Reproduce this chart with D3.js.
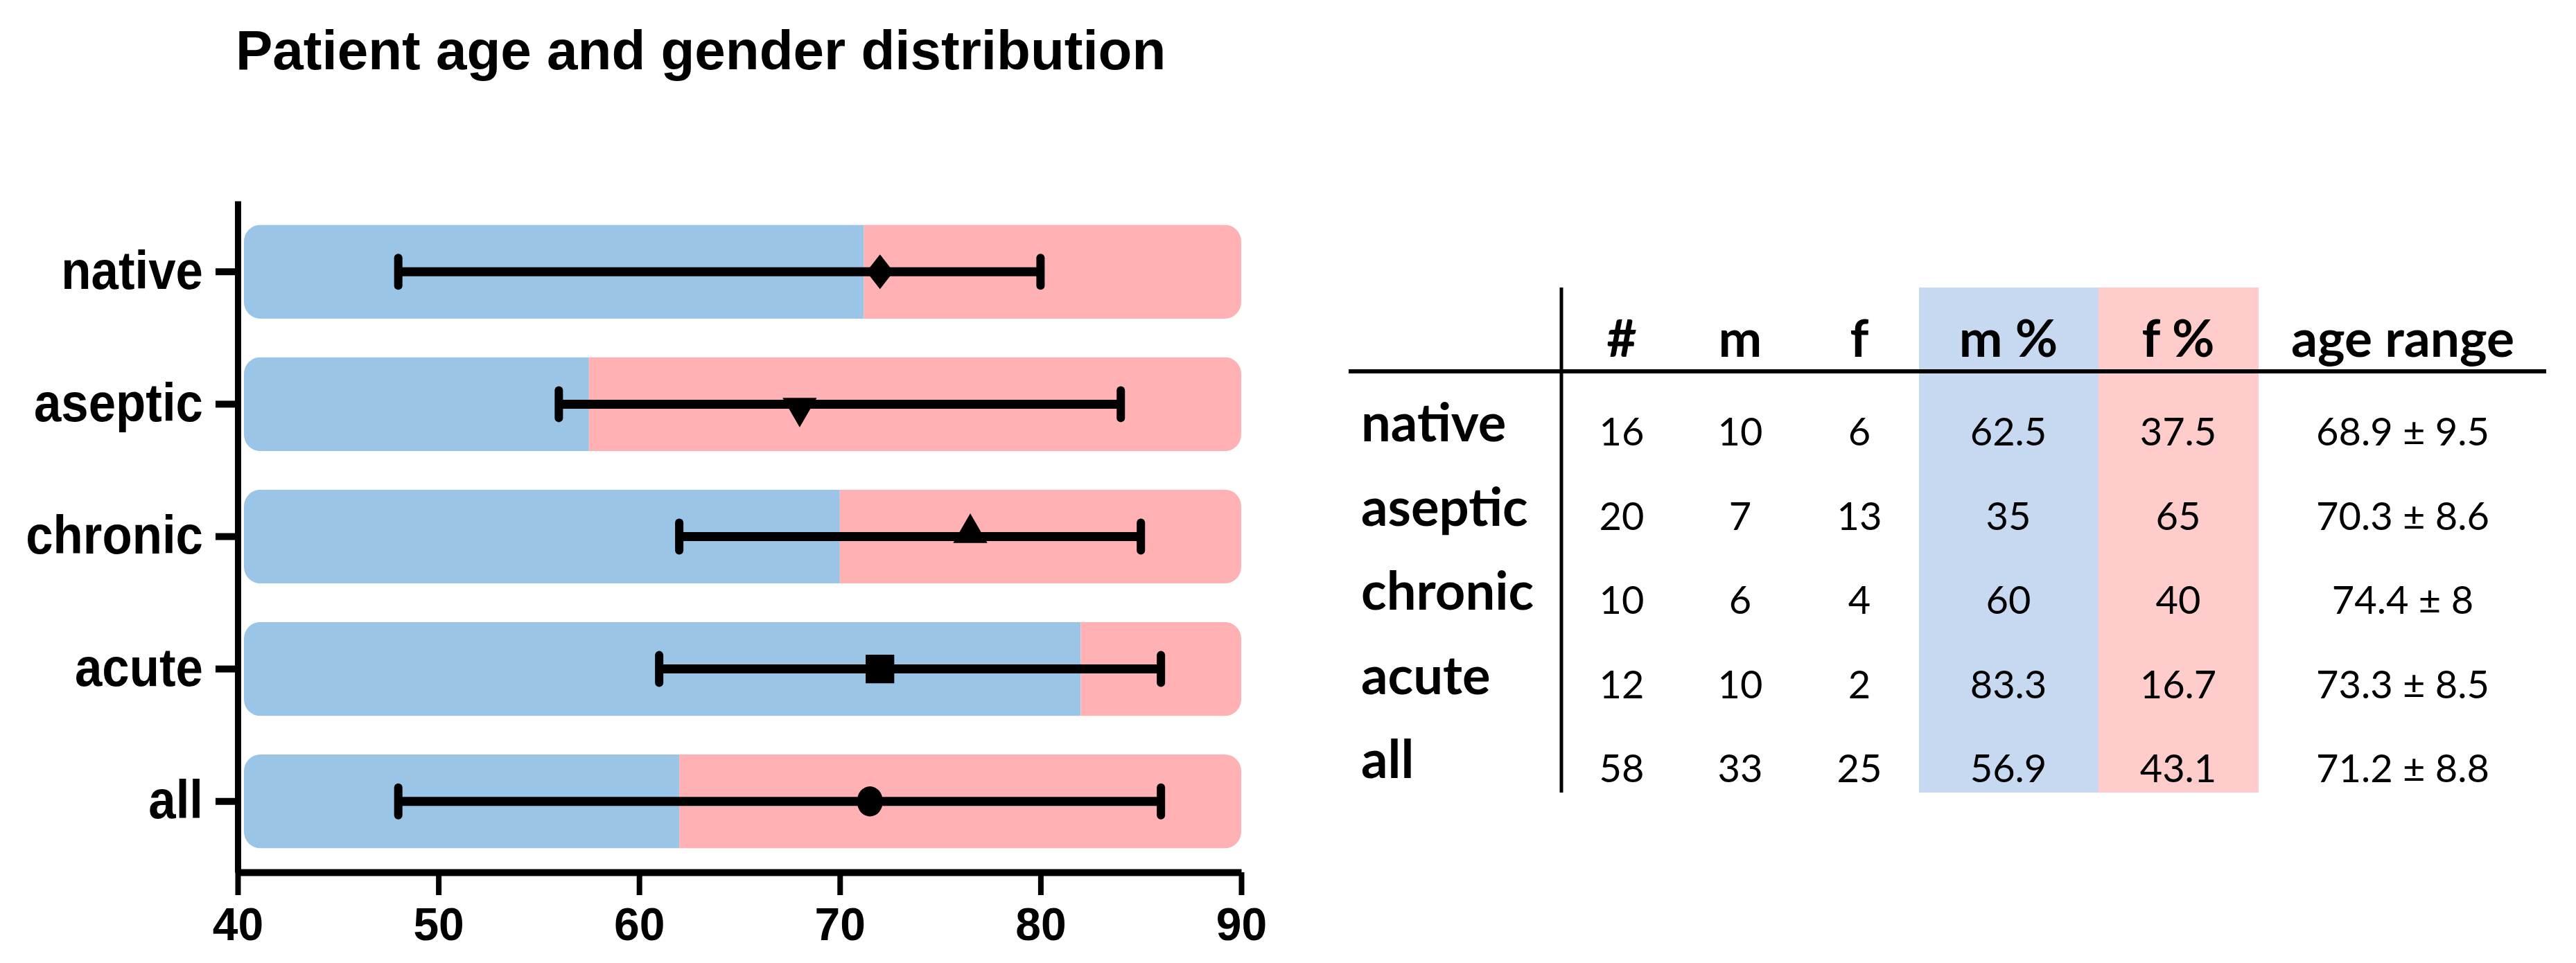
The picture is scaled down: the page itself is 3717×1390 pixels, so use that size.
<!DOCTYPE html>
<html>
<head>
<meta charset="utf-8">
<script src="https://cdn.jsdelivr.net/npm/d3@7"></script>
<style>
  body { margin: 0; background: #fff; }
</style>
</head>
<body>
<div id="chart"></div>
<script>
// Chart data
const categories = ['native', 'aseptic', 'chronic', 'acute', 'all']
const ageLow = [48, 56, 62, 61, 48]
const ageHigh = [80, 84, 85, 86, 86]
const ageMarker = [72, 68, 76.5, 72, 71.5]
const maleSplit = [71.2, 57.5, 70, 82, 62]   // where the blue part of the bar ends
const markerShapes = ['diamond', 'triangleDown', 'triangleUp', 'square', 'circle']
const xTicks = [40, 50, 60, 70, 80, 90]

// Table data
const tableHeaders = ['#', 'm', 'f', 'm %', 'f %', 'age range']
const totalCount = [16, 20, 10, 12, 58]
const maleCount = [10, 7, 6, 10, 33]
const femaleCount = [6, 13, 4, 2, 25]
const malePct = ['62.5', '35', '60', '83.3', '56.9']
const femalePct = ['37.5', '65', '40', '16.7', '43.1']
const ageMean = ['68.9', '70.3', '74.4', '73.3', '71.2']
const ageSd = ['9.5', '8.6', '8', '8.5', '8.8']

// Colors
const BLUE = '#9ac5e6'
const PINK = '#ffb1b3'
const TABLE_BLUE = '#c6d9f0'
const TABLE_PINK = '#ffcccc'

// Initialization
const width = 3717
const height = 1390
const svg = d3.select('#chart').append('svg')
  .attr('width', width)
  .attr('height', height)
const defs = svg.append('defs')

// Scales
const x = d3.scaleLinear().domain([40, 90]).range([343, 1791])
const y = d3.scaleBand().domain(categories).range([290, 1259])
  .paddingInner(0.29).paddingOuter(0.18)

// Title
svg.append('text')
  .attr('x', 340)
  .attr('y', 100)
  .style('font-family', '"Liberation Sans", Arial, sans-serif')
  .style('font-weight', 'bold')
  .style('font-size', '80px')
  .text('Patient age and gender distribution')

// Bars (blue = male share, pink = female share)
const rows = categories.map((c, i) => ({
  cat: c, low: ageLow[i], high: ageHigh[i], mark: ageMarker[i],
  split: maleSplit[i], shape: markerShapes[i]
}))

const barStart = x(40) + 9
const bars = svg.append('g')
rows.forEach((d, i) => {
  defs.append('clipPath').attr('id', `clip-${i}`)
    .append('rect')
    .attr('x', barStart)
    .attr('y', y(d.cat))
    .attr('width', x(90) - barStart)
    .attr('height', y.bandwidth())
    .attr('rx', 24)
  const g = bars.append('g').attr('clip-path', `url(#clip-${i})`)
  g.append('rect')
    .attr('x', barStart)
    .attr('y', y(d.cat))
    .attr('width', x(d.split) - barStart)
    .attr('height', y.bandwidth())
    .attr('fill', BLUE)
  g.append('rect')
    .attr('x', x(d.split))
    .attr('y', y(d.cat))
    .attr('width', x(90) - x(d.split))
    .attr('height', y.bandwidth())
    .attr('fill', PINK)
})

// Error bars
const err = svg.append('g')
rows.forEach(d => {
  const cy = y(d.cat) + y.bandwidth() / 2
  err.append('line')
    .attr('x1', x(d.low)).attr('x2', x(d.high))
    .attr('y1', cy).attr('y2', cy)
    .attr('stroke', '#000').attr('stroke-width', 13)
  ;[d.low, d.high].forEach(v => {
    err.append('line')
      .attr('x1', x(v)).attr('x2', x(v))
      .attr('y1', cy - 20).attr('y2', cy + 20)
      .attr('stroke', '#000').attr('stroke-width', 12)
      .attr('stroke-linecap', 'round')
  })

  // Marker
  let path, transform = `translate(${x(d.mark)},${cy})`
  if (d.shape === 'diamond') {
    path = d3.symbol(d3.symbolDiamond2, 1600)()
    transform += ' scale(0.78,1)'
  } else if (d.shape === 'triangleUp') {
    path = d3.symbol(d3.symbolTriangle, 1050)()
    transform += ' translate(0,-5)'
  } else if (d.shape === 'triangleDown') {
    path = d3.symbol(d3.symbolTriangle, 1050)()
    transform += ' translate(0,5) rotate(180)'
  } else if (d.shape === 'square') {
    path = d3.symbol(d3.symbolSquare, 1700)()
  } else {
    path = d3.symbol(d3.symbolCircle, 1350)()
    transform += ' scale(0.9,1.05)'
  }
  err.append('path')
    .attr('d', path)
    .attr('transform', transform)
    .attr('fill', '#000')
})

// Axes
const yAxis = svg.append('g')
  .attr('transform', `translate(${x(40)},0)`)
  .call(d3.axisLeft(y).tickSize(32).tickSizeOuter(0).tickPadding(17))
yAxis.select('.domain').attr('stroke-width', 9)
yAxis.selectAll('.tick line').attr('stroke-width', 10)
yAxis.selectAll('.tick text')
  .attr('x', -50 / 0.92)
  .attr('transform', 'scale(0.92,1)')
  .style('font-family', '"Liberation Sans", Arial, sans-serif')
  .style('font-weight', 'bold')
  .style('font-size', '77px')
  .attr('fill', '#000')

const xAxis = svg.append('g')
  .attr('transform', `translate(0,${y.range()[1]})`)
  .call(d3.axisBottom(x).tickValues(xTicks).tickSize(33).tickSizeOuter(0).tickPadding(18))
xAxis.select('.domain').attr('stroke-width', 10)
xAxis.selectAll('.tick line').attr('stroke-width', 8)
xAxis.selectAll('.tick text')
  .style('font-family', '"Liberation Sans", Arial, sans-serif')
  .style('font-weight', 'bold')
  .style('font-size', '66px')
  .attr('fill', '#000')

// Table
const tableFont = 'Lato, "Open Sans", sans-serif'
const colX = [2340, 2511, 2683, 2898, 3143, 3467]
const tableTop = 415
const tableBottom = 1144
const headerBase = 515
const rowBase = d3.scalePoint().domain(categories).range([637, 1123])
const table = svg.append('g')

// Highlight bands for m % and f %
table.append('rect')
  .attr('x', 2769).attr('y', tableTop)
  .attr('width', 3028 - 2769).attr('height', tableBottom - tableTop)
  .attr('fill', TABLE_BLUE)
table.append('rect')
  .attr('x', 3028).attr('y', tableTop)
  .attr('width', 3259 - 3028).attr('height', tableBottom - tableTop)
  .attr('fill', TABLE_PINK)

// Lines
table.append('line')
  .attr('x1', 2253).attr('x2', 2253)
  .attr('y1', tableTop).attr('y2', tableBottom)
  .attr('stroke', '#000').attr('stroke-width', 5)
table.append('line')
  .attr('x1', 1946).attr('x2', 3674)
  .attr('y1', 536).attr('y2', 536)
  .attr('stroke', '#000').attr('stroke-width', 6)

// Headers
table.selectAll('.header')
  .data(tableHeaders)
  .enter()
  .append('text')
  .attr('class', 'header')
  .attr('x', (_, i) => colX[i])
  .attr('y', headerBase)
  .attr('text-anchor', 'middle')
  .style('font-family', tableFont)
  .style('font-weight', 'bold')
  .style('font-size', '75px')
  .text(d => d)

// Row labels
table.selectAll('.rowlabel')
  .data(categories)
  .enter()
  .append('text')
  .attr('class', 'rowlabel')
  .attr('x', 1964)
  .attr('y', d => rowBase(d))
  .style('font-family', tableFont)
  .style('font-weight', 'bold')
  .style('font-size', '76px')
  .text(d => d)

// Cells
const cells = categories.map((c, i) => [
  totalCount[i], maleCount[i], femaleCount[i], malePct[i], femalePct[i],
  `${ageMean[i]} ± ${ageSd[i]}`
])
categories.forEach((c, i) => {
  table.selectAll(`.cell-${i}`)
    .data(cells[i])
    .enter()
    .append('text')
    .attr('class', `cell-${i}`)
    .attr('x', (_, j) => colX[j])
    .attr('y', rowBase(c) + 6)
    .attr('text-anchor', 'middle')
    .style('font-family', tableFont)
    .style('font-size', '56px')
    .text(d => d)
})
</script>
</body>
</html>
